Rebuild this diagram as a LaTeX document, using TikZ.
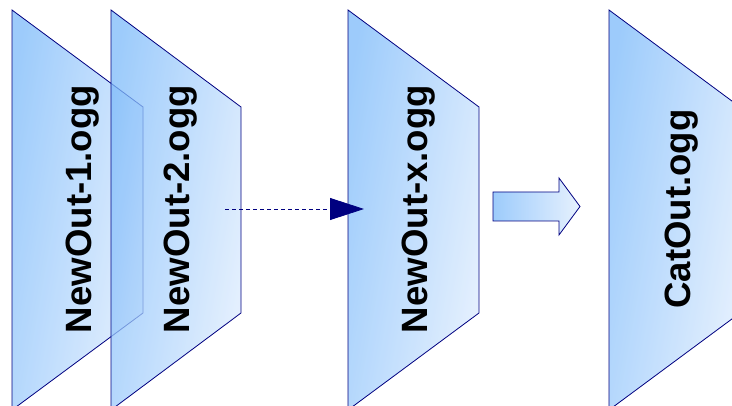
\documentclass[tikz,border=0pt]{standalone}
\usepackage{fontspec}
\setmainfont{Liberation Sans}
\usetikzlibrary{arrows.meta}
\definecolor{navyline}{RGB}{0,0,128}
\definecolor{bluel}{RGB}{124,186,250}
\definecolor{bluer}{RGB}{222,236,254}
\tikzset{
  trap/.style={draw=navyline, line width=0.8pt, left color=bluel, right color=bluer, shading angle=80, fill opacity=0.75, draw opacity=1, line join=miter},
  label/.style={rotate=90, anchor=base, inner sep=0pt, font=\fontsize{36.6}{40}\selectfont\bfseries, text=black},
  dashconn/.style={draw=navyline, line width=0.8pt, dash pattern=on 4pt off 3pt, -{Triangle[length=34pt,width=22pt]}},
  blockarrow/.style={draw=navyline, line width=0.8pt, left color=bluel, right color=bluer, fill opacity=0.75, draw opacity=1}
}
\begin{document}
\begin{tikzpicture}[x=1pt,y=-1pt]
\useasboundingbox (0,0) rectangle (732,406);
% trapezoids
\path[trap] (12,10) -- (143,107) -- (143,313) -- (12,410) -- cycle;
\path[trap] (111,10) -- (241,107) -- (241,313) -- (111,410) -- cycle;
\path[trap] (348,10) -- (479,107) -- (479,313) -- (348,410) -- cycle;
\path[trap] (609,10) -- (740,107) -- (740,313) -- (609,410) -- cycle;
% labels
\node[label] (t1) at (91,209) {NewOut-1.ogg};
\node[label] (t2) at (189,209) {NewOut-2.ogg};
\node[label] (t3) at (427,209) {NewOut-x.ogg};
\node[label] (t4) at (690,209) {CatOut.ogg};
% dashed connector
\coordinate (a2) at (225,209);
\coordinate (a3) at (364,209);
\draw[dashconn] (a2) -- (a3);
% block arrow
\path[blockarrow] (493,192) -- (559,192) -- (559,178) -- (580,206.5) -- (559,235) -- (559,221) -- (493,221) -- cycle;
\end{tikzpicture}
\end{document}
